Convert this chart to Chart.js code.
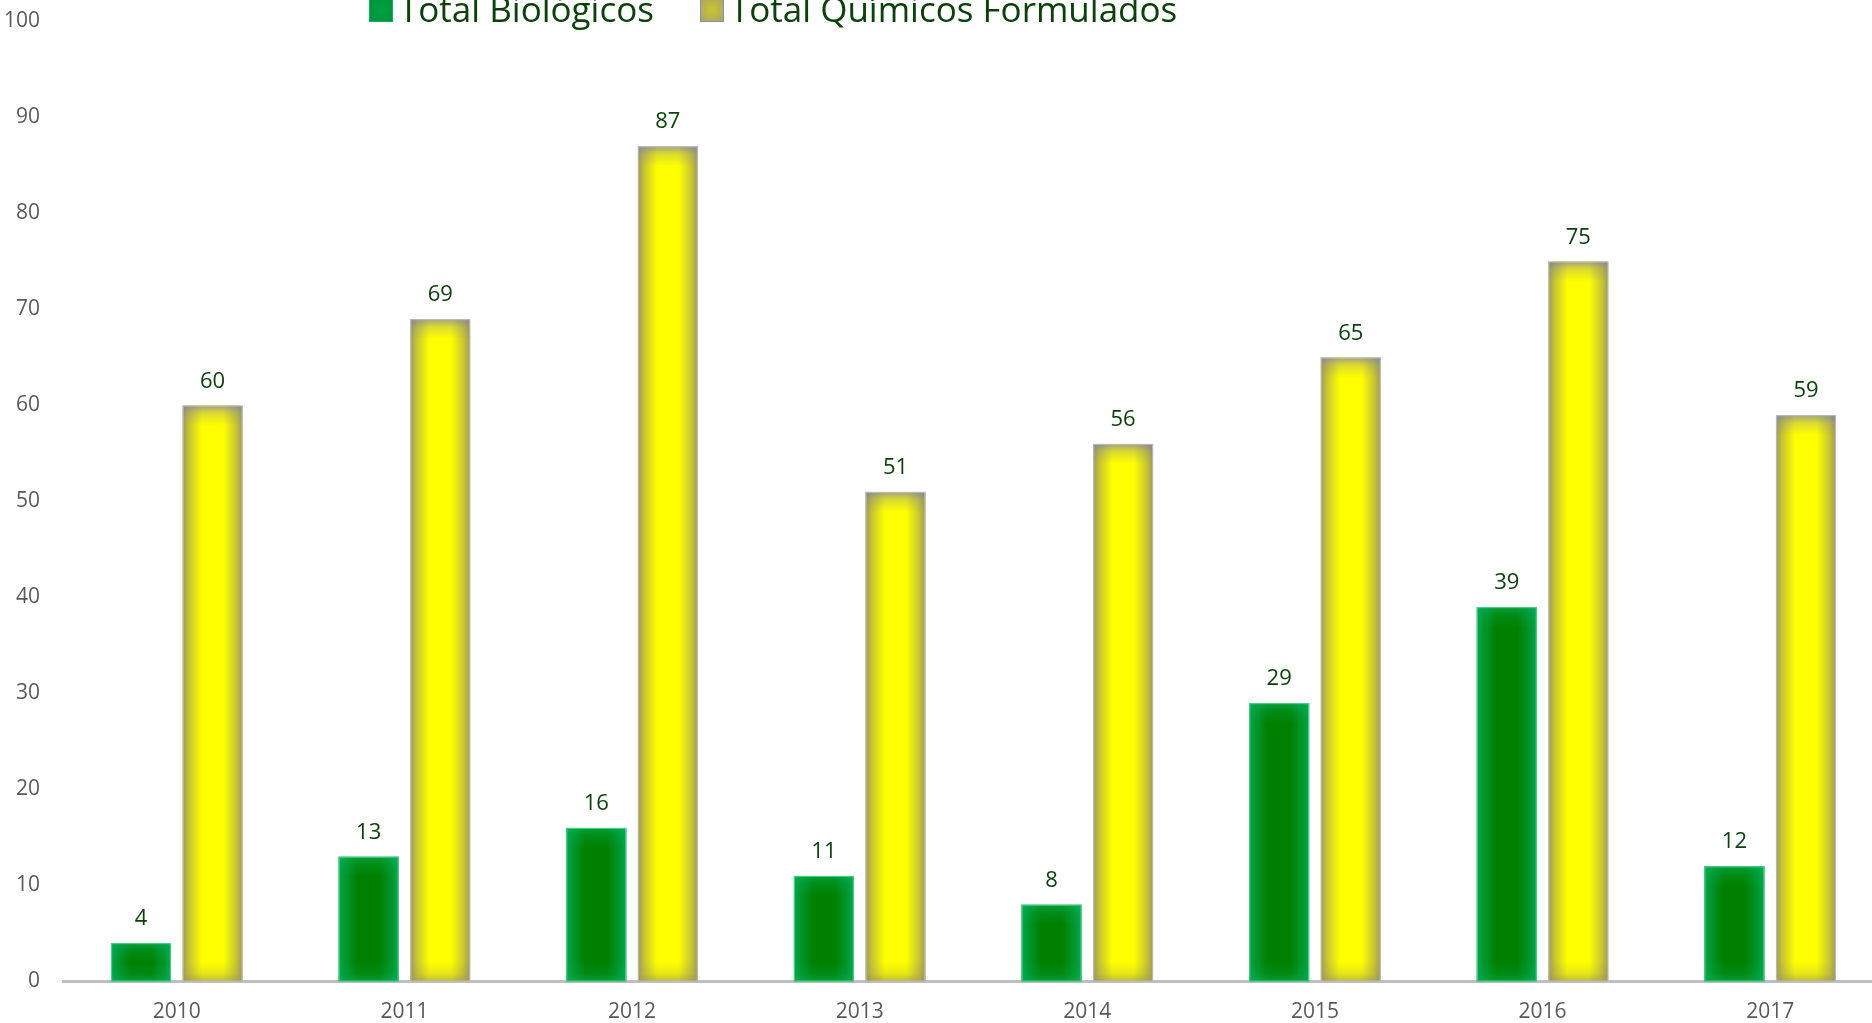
<!DOCTYPE html>
<html lang="es">
<head>
<meta charset="utf-8">
<title>Biológicos vs Químicos Formulados</title>
<script src="https://cdn.jsdelivr.net/npm/chart.js@4.4.1/dist/chart.umd.min.js"></script>
<style>
  html, body { margin: 0; padding: 0; background: #fff; overflow: hidden; }
  #wrap { position: absolute; left: 0; top: 0; width: 1900px; height: 1023px; }
</style>
</head>
<body>
<div id="wrap"><canvas id="chart"></canvas></div>
<script>
// ---- Data ----
const years       = ['2010', '2011', '2012', '2013', '2014', '2015', '2016', '2017'];
const biologicos  = [4, 13, 16, 11, 8, 29, 39, 12];
const quimicos    = [60, 69, 87, 51, 56, 65, 75, 59];
const yTicks      = [0, 10, 20, 30, 40, 50, 60, 70, 80, 90, 100];

const FONT = "'Open Sans', 'Noto Sans', sans-serif";
const TEXT_GREEN = '#0a420a';

// ---- Glow on bar edges (Excel-style inner shadow) ----
// rgb only, alpha applied per stop
const glowStyles = [
  { side: [0, 172, 88],   sideA: 0.9, top: [0, 180, 95],    topA: 0.6 },
  { side: [150, 145, 95], sideA: 0.9, top: [125, 125, 170], topA: 0.7 }
];

function rgba(c, a) { return `rgba(${c[0]},${c[1]},${c[2]},${a})`; }

const barGlow = {
  id: 'barGlow',
  afterDatasetsDraw(chart) {
    const ctx = chart.ctx;
    chart.data.datasets.forEach((ds, di) => {
      const meta = chart.getDatasetMeta(di);
      const g = glowStyles[di];
      meta.data.forEach(el => {
        const left = el.x - el.width / 2, right = el.x + el.width / 2;
        const top = el.y, bottom = el.base;
        const w = right - left, h = bottom - top;
        ctx.save();
        ctx.beginPath();
        ctx.rect(left, top, w, h);
        ctx.clip();
        const gx = ctx.createLinearGradient(left, 0, right, 0);
        gx.addColorStop(0, rgba(g.side, g.sideA));
        gx.addColorStop(0.12, rgba(g.side, g.sideA * 0.55));
        gx.addColorStop(0.32, rgba(g.side, 0));
        gx.addColorStop(0.68, rgba(g.side, 0));
        gx.addColorStop(0.88, rgba(g.side, g.sideA * 0.55));
        gx.addColorStop(1, rgba(g.side, g.sideA));
        ctx.fillStyle = gx;
        ctx.fillRect(left, top, w, h);
        const edge = Math.min(20, h / 2);
        const gt = ctx.createLinearGradient(0, top, 0, top + edge);
        gt.addColorStop(0, rgba(g.top, g.topA));
        gt.addColorStop(0.4, rgba(g.top, g.topA * 0.4));
        gt.addColorStop(1, rgba(g.top, 0));
        ctx.fillStyle = gt;
        ctx.fillRect(left, top, w, edge);
        const gb = ctx.createLinearGradient(0, bottom, 0, bottom - edge);
        gb.addColorStop(0, rgba(g.side, g.sideA * 0.7));
        gb.addColorStop(0.4, rgba(g.side, g.sideA * 0.25));
        gb.addColorStop(1, rgba(g.side, 0));
        ctx.fillStyle = gb;
        ctx.fillRect(left, bottom - edge, w, edge);
        ctx.restore();
        // thin outline
        ctx.save();
        ctx.strokeStyle = ds.borderColor;
        ctx.lineWidth = 1.2;
        ctx.strokeRect(left + 0.5, top + 0.5, w - 1, h - 1);
        ctx.restore();
      });
    });
  }
};

// ---- Value labels above bars ----
const valueLabels = {
  id: 'valueLabels',
  afterDatasetsDraw(chart) {
    const ctx = chart.ctx;
    ctx.save();
    ctx.font = `22px ${FONT}`;
    ctx.fillStyle = TEXT_GREEN;
    ctx.textAlign = 'center';
    ctx.textBaseline = 'alphabetic';
    chart.data.datasets.forEach((ds, di) => {
      chart.getDatasetMeta(di).data.forEach((el, i) => {
        ctx.fillText(String(ds.data[i]), el.x, el.y - 18);
      });
    });
    ctx.restore();
  }
};

// ---- Legend (top, partly cut off like the source) ----
const topLegend = {
  id: 'topLegend',
  afterDraw(chart) {
    const ctx = chart.ctx;
    const boxes = [
      { x: 369, fill: ['#00a040', '#00903a'], edge: '#00b858' },
      { x: 700, fill: ['#c8c23a', '#a8a260'], edge: '#8a8ac8' }
    ];
    ctx.save();
    ctx.font = `35px ${FONT}`;
    ctx.textBaseline = 'alphabetic';
    chart.data.datasets.forEach((ds, di) => {
      const b = boxes[di];
      const gr = ctx.createRadialGradient(b.x + 12, 10, 2, b.x + 12, 10, 16);
      gr.addColorStop(0, b.fill[0]);
      gr.addColorStop(1, b.fill[1]);
      ctx.fillStyle = gr;
      ctx.fillRect(b.x, -2, 24, 24);
      ctx.strokeStyle = b.edge;
      ctx.lineWidth = 1;
      ctx.strokeRect(b.x + 0.5, -2, 23, 23.5);
      ctx.fillStyle = TEXT_GREEN;
      ctx.fillText(ds.label, b.x + 30, 22);
    });
    ctx.restore();
  }
};

new Chart(document.getElementById('chart'), {
  type: 'bar',
  data: {
    labels: years,
    datasets: [
      {
        label: 'Total Biológicos',
        data: biologicos,
        backgroundColor: '#008000',
        borderColor: 'rgba(80, 210, 140, 0.9)',
        borderWidth: 0,
        categoryPercentage: 0.629,
        barPercentage: 0.838
      },
      {
        label: 'Total Químicos Formulados',
        data: quimicos,
        backgroundColor: '#ffff00',
        borderColor: 'rgba(185, 185, 205, 0.9)',
        borderWidth: 0,
        categoryPercentage: 0.629,
        barPercentage: 0.838
      }
    ]
  },
  options: {
    responsive: true,
    maintainAspectRatio: false,
    animation: false,
    layout: { padding: { top: 21.5, right: 16, left: 0, bottom: 0 } },
    plugins: {
      legend: { display: false },
      tooltip: { enabled: false }
    },
    scales: {
      x: {
        grid: { display: false, drawTicks: false },
        border: { display: true, color: '#bfbfbf', width: 3 },
        ticks: { color: '#595959', font: { family: FONT, size: 21 }, padding: 18 },
        afterFit: (s) => { s.height = 41.5; s.paddingLeft = 0; s.paddingRight = 0; }
      },
      y: {
        min: 0,
        max: 100,
        afterBuildTicks: (s) => { s.ticks = yTicks.map(v => ({ value: v })); },
        grid: { display: false, drawTicks: false },
        border: { display: false },
        ticks: { color: '#595959', font: { family: FONT, size: 21 }, padding: 23 },
        afterFit: (s) => { s.width = 63; s.paddingTop = 0; s.paddingBottom = 0; }
      }
    }
  },
  plugins: [barGlow, valueLabels, topLegend]
});
</script>
</body>
</html>
